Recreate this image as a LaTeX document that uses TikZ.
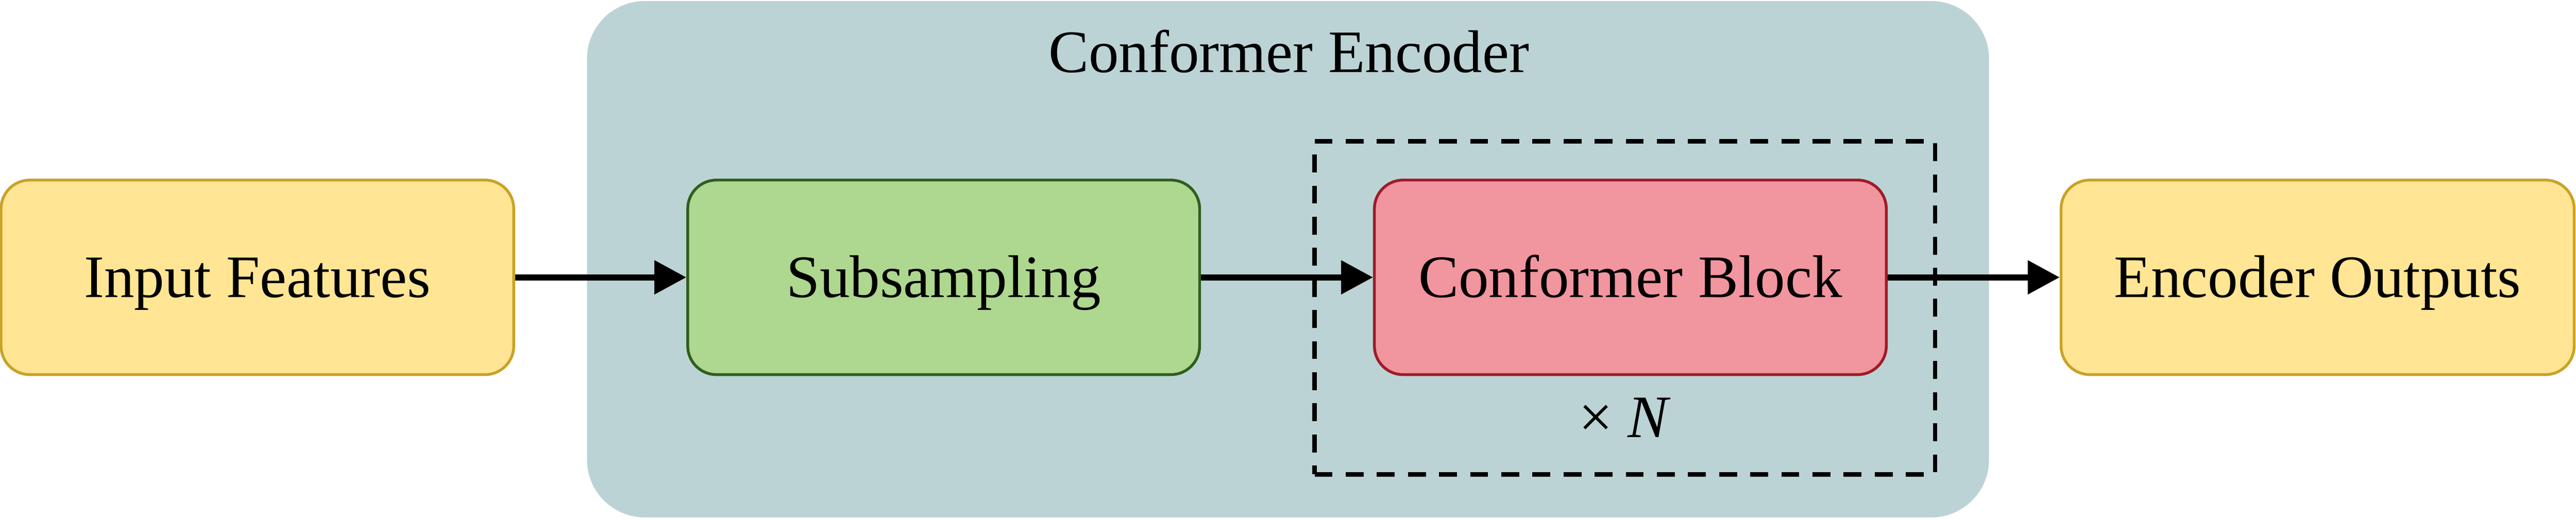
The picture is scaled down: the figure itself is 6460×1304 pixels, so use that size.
\documentclass[tikz,border=0pt]{standalone}
\usepackage{fontspec}
\setmainfont{Liberation Serif}
\usetikzlibrary{arrows.meta}
\definecolor{yelfill}{HTML}{FFE594}
\definecolor{yeldraw}{HTML}{C9A227}
\definecolor{grnfill}{HTML}{AED78F}
\definecolor{grndraw}{HTML}{2F5E1E}
\definecolor{pnkfill}{HTML}{F1959F}
\definecolor{pnkdraw}{HTML}{9E1B2A}
\definecolor{encfill}{HTML}{BCD3D5}
\tikzset{
  blockbox/.style={rectangle, rounded corners=0.72cm, line width=0.07cm,
    inner sep=0pt, minimum height=4.88cm, text height=1.0cm, text depth=0pt,
    font=\fontsize{43}{50}\selectfont},
  yelbox/.style={blockbox, fill=yelfill, draw=yeldraw},
  grnbox/.style={blockbox, fill=grnfill, draw=grndraw},
  pnkbox/.style={blockbox, fill=pnkfill, draw=pnkdraw},
  flow/.style={line width=0.15cm, -{Triangle[length=0.8cm, width=0.82cm]}},
  lbl/.style={inner sep=0pt, anchor=base, font=\fontsize{43}{50}\selectfont}
}
\begin{document}
\begin{tikzpicture}[x=0.01cm, y=-0.01cm]
\useasboundingbox (0,0) rectangle (6460,1304);
% encoder background
\node[rectangle, rounded corners=1.45cm, fill=encfill, inner sep=0pt,
  minimum width=35.14cm, minimum height=12.95cm] (enc) at (3230,650.5) {};
\node[lbl] (title) at (3232,182) {Conformer Encoder};
% dashed repeat box
\node[rectangle, draw=black, line width=0.11cm, dash pattern=on 0.45cm off 0.33cm,
  inner sep=0pt, minimum width=15.55cm, minimum height=8.35cm] (rep) at (4074.5,772.5) {};
\node[lbl] (times) at (4075,1097) {× \textit{N}};
% blocks
\node[yelbox, minimum width=12.85cm] (inp) at (645.5,696) {Input Features};
\node[grnbox, minimum width=12.83cm] (sub) at (2366.5,696) {Subsampling};
\node[pnkbox, minimum width=12.83cm] (blk) at (4088.5,696) {Conformer Block};
\node[yelbox, minimum width=12.86cm] (out) at (5812,696) {Encoder Outputs};
% connectors
\draw[flow] (inp.east) -- (sub.west);
\draw[flow] (sub.east) -- (blk.west);
\draw[flow] (blk.east) -- (out.west);
\end{tikzpicture}
\end{document}
